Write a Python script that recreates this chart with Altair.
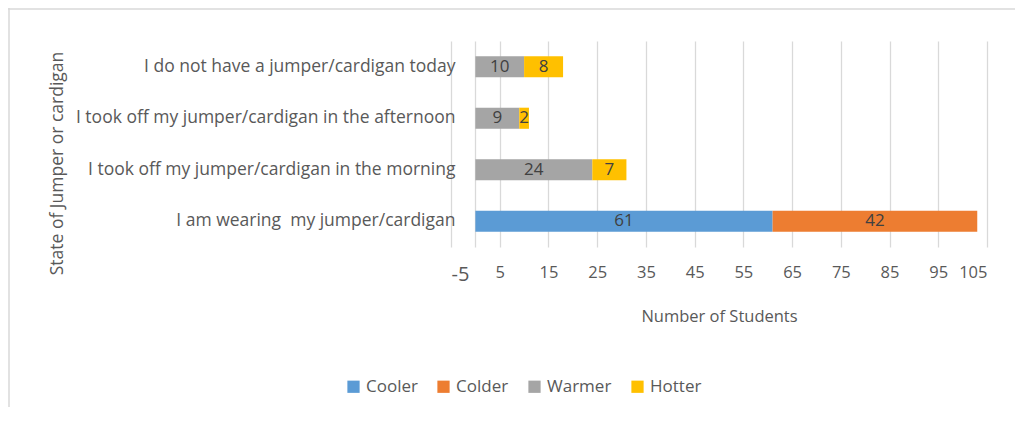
import altair as alt
import pandas as pd

categories = [
    "I do not have a jumper/cardigan today",
    "I took off my jumper/cardigan in the afternoon",
    "I took off my jumper/cardigan in the morning",
    "I am wearing\u00a0 my jumper/cardigan",
]
series = ["Cooler", "Colder", "Warmer", "Hotter"]
colors = ["#5B9BD5", "#ED7D31", "#A5A5A5", "#FFC000"]
cooler = [0, 0, 0, 61]
colder = [0, 0, 0, 42]
warmer = [10, 9, 24, 0]
hotter = [8, 2, 7, 0]
x_ticks = [-5, 5, 15, 25, 35, 45, 55, 65, 75, 85, 95, 105]

rows = []
for i, c in enumerate(categories):
    start = 0
    for s, vals in zip(series, [cooler, colder, warmer, hotter]):
        v = vals[i]
        if v > 0:
            rows.append({"cat": c, "series": s, "order": series.index(s),
                         "x0": start, "x1": start + v, "mid": start + v / 2, "val": v})
            start += v
df = pd.DataFrame(rows)

FONT = "Open Sans"
W, H = 536, 206

x_scale = alt.Scale(domain=[-5, 105], nice=False, zero=False)
y_scale = alt.Scale(domain=categories, paddingInner=0.59, paddingOuter=0.295)

bars = alt.Chart(df).mark_bar().encode(
    y=alt.Y("cat:N", scale=y_scale, sort=categories,
            axis=alt.Axis(title="State of Jumper or cardigan", ticks=False, domain=False,
                          grid=False, labelPadding=0, offset=-4, labelLimit=500,
                          labelFontSize=17.5, labelColor="#595959", labelFont=FONT,
                          titleFont=FONT, titleFontSize=17.5, titleColor="#595959",
                          titleFontWeight="normal", titleX=-389, titleY=122,
                          titleAngle=270)),
    x=alt.X("x0:Q", scale=x_scale,
            axis=alt.Axis(title="Number of Students", values=[-5, 0] + x_ticks[1:],
                          labelExpr="datum.value == 0 ? '' : toString(datum.value)",
                          labelFontSize={"condition": {"test": "datum.value == -5", "value": 20}, "value": 16.5},
                          ticks=False, domain=False, grid=True, gridColor="#D9D9D9",
                          gridWidth=1.3, labelPadding=17, labelColor="#595959",
                          labelFont=FONT, titleFont=FONT, titleFontSize=16.5,
                          titleColor="#595959", titleFontWeight="normal", titlePadding=24)),
    x2="x1:Q",
    color=alt.Color("series:N", scale=alt.Scale(domain=series, range=colors),
                    legend=alt.Legend(title=None, orient="none", legendX=-106, legendY=337,
                                      direction="horizontal", columns=4, symbolType="square",
                                      symbolSize=150, symbolStrokeWidth=0, labelFontSize=17,
                                      labelFont=FONT, labelColor="#595959", columnPadding=17,
                                      labelOffset=4)),
    order="order:Q",
)

labels = alt.Chart(df).mark_text(font=FONT, fontSize=17, color="#404040").encode(
    y=alt.Y("cat:N", scale=y_scale, sort=categories),
    x=alt.X("mid:Q", scale=x_scale),
    text="val:Q",
)

frame_data = pd.DataFrame({"k": [1]})
frame_left = alt.Chart(frame_data).mark_rule(color="#D9D9D9", strokeWidth=1.5).encode(
    x=alt.value(-442), y=alt.value(-33), y2=alt.value(380))
frame_top = alt.Chart(frame_data).mark_rule(color="#D9D9D9", strokeWidth=1.5).encode(
    x=alt.value(-443), x2=alt.value(580), y=alt.value(-32))

chart = alt.layer(bars, labels, frame_left, frame_top).properties(
    width=W, height=H,
    background="white",
    autosize=alt.AutoSizeParams(type="none"),
    padding={"left": 443, "top": 33, "right": 28, "bottom": 160},
).configure_view(stroke=None)

chart.save("out.html", embed_options={"renderer": "svg", "actions": False})
